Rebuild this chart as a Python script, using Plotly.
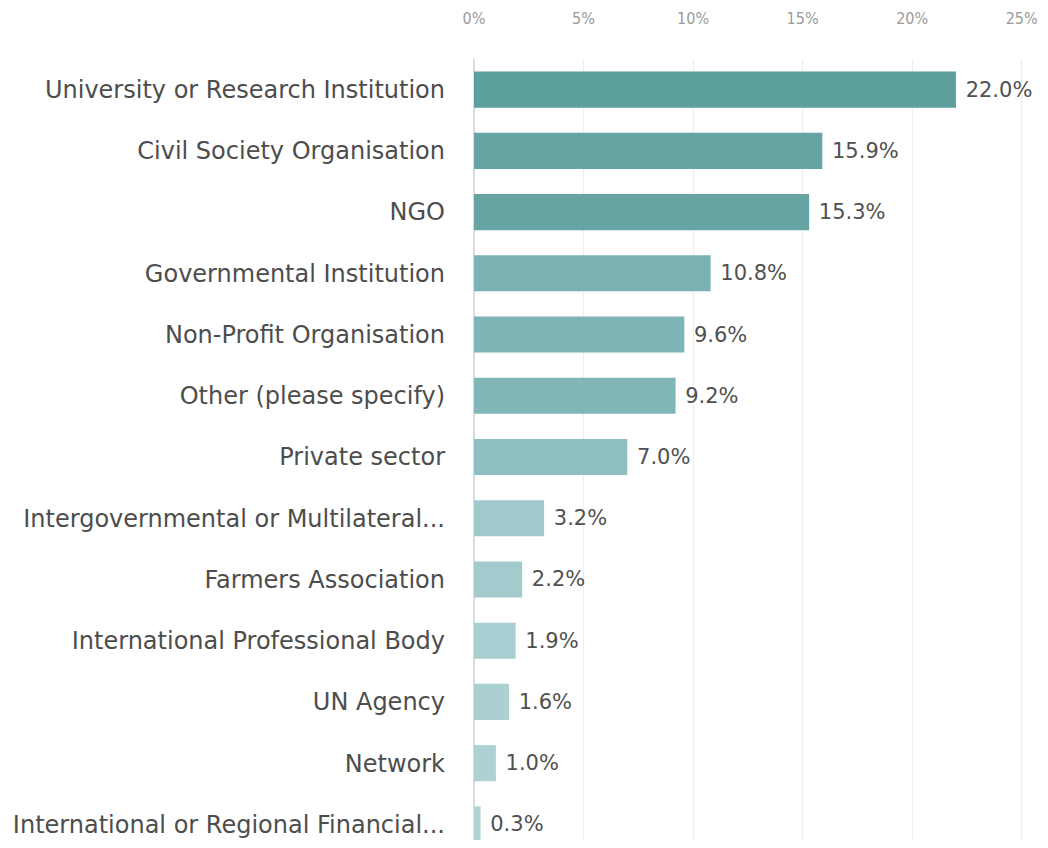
import plotly.graph_objects as go

categories = [
    "University or Research Institution",
    "Civil Society Organisation",
    "NGO",
    "Governmental Institution",
    "Non-Profit Organisation",
    "Other (please specify)",
    "Private sector",
    "Intergovernmental or Multilateral...",
    "Farmers Association",
    "International Professional Body",
    "UN Agency",
    "Network",
    "International or Regional Financial...",
]
values = [22.0, 15.9, 15.3, 10.8, 9.6, 9.2, 7.0, 3.2, 2.2, 1.9, 1.6, 1.0, 0.3]
colors = ["#5c9f9d", "#65a4a3", "#67a5a4", "#7ab2b3", "#7eb4b5", "#80b6b7",
          "#8fbfc0", "#a0c9cb", "#a3cbcd", "#a8cfd1", "#abd0d2", "#aed2d4", "#b1d4d6"]
tick_vals = [0, 5, 10, 15, 20, 25]
tick_text = ["0%", "5%", "10%", "15%", "20%", "25%"]

label_font = "DejaVu Sans, sans-serif"
tick_font = "DejaVu Sans Condensed, DejaVu Sans, sans-serif"

fig = go.Figure(go.Bar(
    x=values,
    y=categories,
    orientation="h",
    marker=dict(color=colors, line=dict(width=0)),
    text=[f"\u00a0{v:.1f}%" for v in values],
    textposition="outside",
    textfont=dict(size=21, color="#505050", family=label_font),
    cliponaxis=False,
))

fig.update_layout(
    width=1032,
    height=832,
    margin=dict(l=466, r=3, t=51, b=0, autoexpand=False),
    paper_bgcolor="white",
    plot_bgcolor="white",
    bargap=0.41,
    showlegend=False,
    font=dict(family=label_font, color="#555555"),
)
fig.update_xaxes(
    side="top",
    range=[0, 25.7],
    tickvals=tick_vals,
    ticktext=tick_text,
    tickfont=dict(size=16, color="#9a9a9a", family=tick_font),
    ticklabelstandoff=31,
    showgrid=True,
    gridcolor="#ececec",
    gridwidth=1,
    zeroline=True,
    zerolinecolor="#dcdcdc",
    zerolinewidth=2,
    showline=False,
    ticks="",
    automargin=False,
    fixedrange=True,
)
fig.update_yaxes(
    type="category",
    categoryorder="array",
    categoryarray=categories,
    range=[12.255, -0.5],
    tickfont=dict(size=24, color="#4d4d4d", family=label_font),
    ticks="",
    ticklabelstandoff=28,
    showgrid=False,
    showline=False,
    automargin=False,
    fixedrange=True,
)

fig.write_html("out.html")
